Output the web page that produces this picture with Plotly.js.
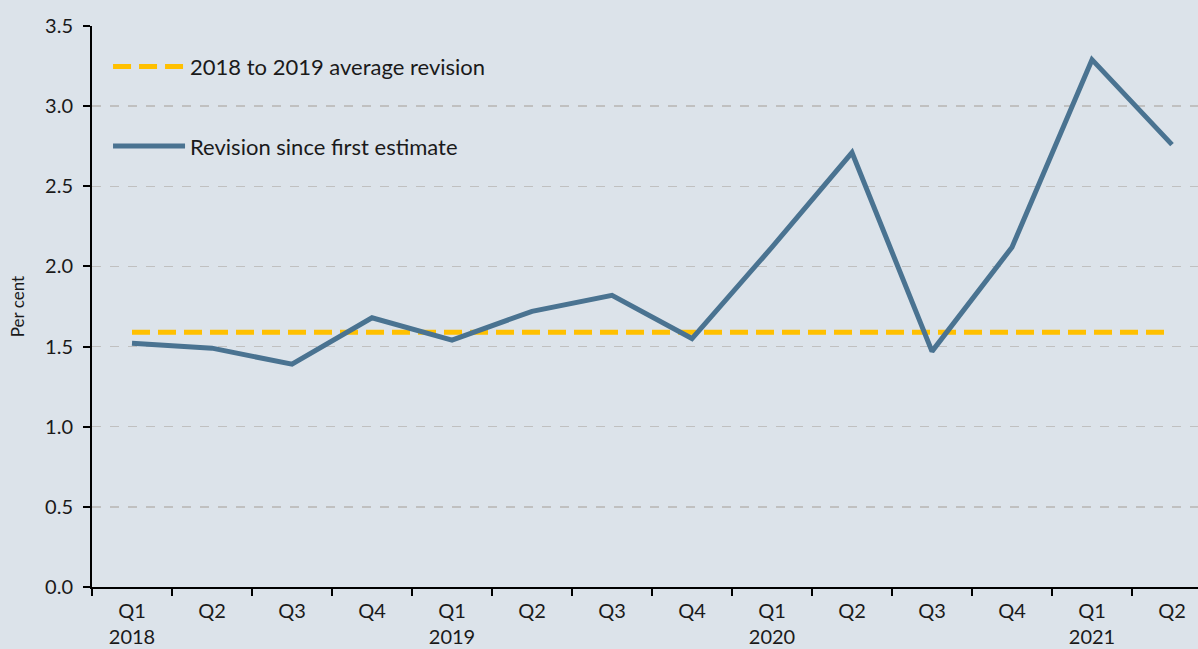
<!DOCTYPE html>
<html>
<head>
<meta charset="utf-8">
<script src="https://cdn.plot.ly/plotly-3.0.1.min.js"></script>
<style>
  html, body { margin: 0; padding: 0; background: #dce3ea; }
  #chart { width: 1198px; height: 649px; }
</style>
</head>
<body>
<div id="chart"></div>
<script>
// quarters and years
const quarters = ['Q1', 'Q2', 'Q3', 'Q4', 'Q1', 'Q2', 'Q3', 'Q4', 'Q1', 'Q2', 'Q3', 'Q4', 'Q1', 'Q2'];
const years = ['2018', '', '', '', '2019', '', '', '', '2020', '', '', '', '2021', ''];

// revision since first estimate, per cent
const revision = [1.52, 1.49, 1.39, 1.68, 1.54, 1.72, 1.82, 1.55, 2.12, 2.71, 1.47, 2.12, 3.29, 2.76];

// 2018 to 2019 average revision
const averageRevision = 1.59;

// category labels: quarter on top, year below (only where a year starts)
const categories = quarters.map((q, i) => years[i] ? q + '<br>' + years[i] : q + '\u200b'.repeat(i));
const average = categories.map(() => averageRevision);

const font = 'Lato, "Noto Sans", sans-serif';

const data = [
  {
    type: 'scatter',
    mode: 'lines',
    x: categories,
    y: average,
    name: '2018 to 2019 average revision',
    legendgroup: 'a',
    line: { color: '#ffc000', width: 5, dash: '18px,8px' },
    hoverinfo: 'skip'
  },
  {
    type: 'scatter',
    mode: 'lines',
    x: categories,
    y: revision,
    name: 'Revision since first estimate',
    legendgroup: 'b',
    line: { color: '#4a7391', width: 5 }
  }
];

const layout = {
  width: 1198,
  height: 649,
  paper_bgcolor: '#dce3ea',
  plot_bgcolor: '#dce3ea',
  margin: { l: 92, r: 0, t: 26, b: 62 },
  font: { family: font, color: '#1a1a1a', size: 19 },
  showlegend: true,
  legend: {
    x: 0.0145,
    y: 0.965,
    xanchor: 'left',
    yanchor: 'top',
    bgcolor: 'rgba(0,0,0,0)',
    font: { size: 22, family: font },
    itemwidth: 72,
    tracegroupgap: 48,
    traceorder: 'grouped'
  },
  xaxis: {
    type: 'category',
    range: [-0.5, 13.325],
    showline: true,
    linecolor: '#000',
    linewidth: 2,
    ticks: 'outside',
    tickson: 'boundaries',
    ticklen: 7,
    tickwidth: 2,
    tickcolor: '#000',
    ticklabelstandoff: 5,
    showgrid: false,
    tickfont: { size: 20 },
    fixedrange: true
  },
  yaxis: {
    range: [0, 3.5],
    dtick: 0.5,
    tickformat: '.1f',
    showline: true,
    linecolor: '#000',
    linewidth: 2,
    ticks: 'outside',
    ticklen: 7,
    tickwidth: 2,
    tickcolor: '#000',
    ticklabelstandoff: 6,
    showgrid: true,
    gridcolor: '#c0c0c0',
    gridwidth: 1.5,
    griddash: 'dash',
    zeroline: false,
    tickfont: { size: 20 },
    title: { text: 'Per cent', font: { size: 17 }, standoff: 16 }
  }
};

Plotly.newPlot('chart', data, layout, { displayModeBar: false, staticPlot: true });
</script>
</body>
</html>
